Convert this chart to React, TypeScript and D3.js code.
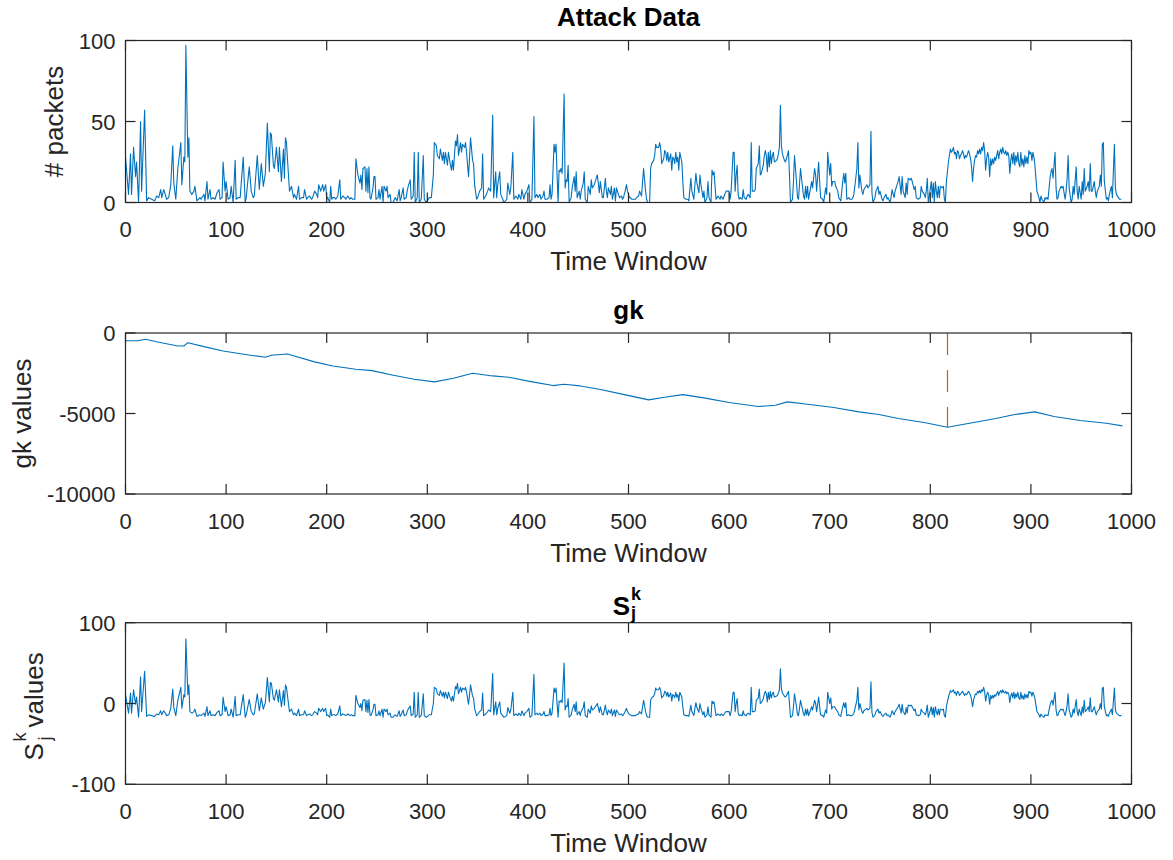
import React from 'react';
import * as d3 from 'd3';

// ---- data ----
// Attack data: [time window, # packets]
const attackSamples: [number, number][] = [
[0,28],[3,5],[5,30],[6,5],[8,34],[10,16],[11,25],[13,0],[15,50],[16,7],[19,57],[21,1],[23,3],[26,2],[29,1],[31,4],[33,3],[35,8],[36,3],[38,8],[41,2],[43,3],[45,11],[47,35],[48,12],[50,2],[52,21],[55,37],[56,11],[58,28],[59,25],[60,97],[62,28],[63,40],[64,7],[66,5],[68,7],[69,10],[71,1],[74,3],[75,2],[78,5],[79,1],[81,13],[82,2],[84,8],[85,2],[87,3],[89,2],[91,6],[93,8],[94,2],[96,3],[97,25],[99,7],[100,13],[102,2],[104,3],[105,10],[107,0],[109,26],[110,2],[112,3],[114,3],[117,28],[119,0],[120,3],[123,22],[125,7],[127,3],[128,4],[131,29],[133,8],[135,24],[137,10],[139,18],[141,49],[143,19],[144,43],[145,42],[147,23],[148,21],[150,34],[152,19],[153,34],[155,13],[157,33],[158,15],[159,40],[160,37],[162,17],[163,7],[165,10],[167,3],[168,5],[170,2],[172,10],[173,2],[175,3],[177,3],[178,8],[180,2],[181,3],[183,4],[185,2],[186,3],[188,7],[190,5],[191,3],[192,11],[194,7],[196,11],[197,7],[199,11],[200,2],
[201,3],[203,0],[204,10],[205,2],[206,3],[208,3],[209,2],[211,4],[213,14],[214,2],[216,4],[218,3],[219,2],[221,4],[223,2],[224,3],[226,2],[228,2],[229,27],[231,17],[233,12],[234,17],[235,8],[236,21],[238,22],[239,7],[240,21],[241,6],[242,22],[243,3],[244,2],[246,9],[247,16],[248,16],[249,2],[251,3],[252,8],[253,2],[255,10],[256,0],[257,10],[259,7],[260,10],[261,3],[263,5],[264,0],[266,0],[268,3],[270,1],[272,8],[273,1],[274,3],[276,9],[277,2],[279,3],[280,7],[281,10],[283,14],[284,2],[286,4],[287,31],[288,0],[290,3],[291,31],[292,0],[294,2],[296,29],[297,2],[299,0],[301,2],[302,3],[304,3],[306,17],[307,37],[309,35],[310,29],[312,27],[313,33],[315,26],[316,31],[317,24],[318,31],[320,23],[321,31],[323,23],[324,20],[325,26],[326,20],[328,38],[329,35],[330,42],[331,29],[333,37],[334,31],[335,36],[337,34],[338,37],[339,31],[341,16],[343,40],[345,26],[346,24],[347,11],[349,2],[350,3],[352,7],[354,9],[355,30],[356,2],[358,4],[360,7],[361,9],[363,7],[365,54],[366,3],[368,19],[369,3],[370,11],[372,19],[373,5],[375,2],[376,0],[379,2],[380,12],[382,5],[383,9],[385,31],[386,2],[388,4],[390,2],[391,5],[393,2],[394,8],[396,2],[397,5],[399,7],
[401,11],[402,0],[404,2],[406,53],[407,3],[409,5],[410,3],[412,5],[413,2],[415,4],[416,7],[417,2],[419,2],[421,3],[422,11],[423,2],[424,5],[426,36],[427,31],[428,36],[429,17],[430,0],[431,20],[432,19],[433,21],[434,18],[436,67],[437,9],[438,14],[439,13],[440,23],[441,0],[443,3],[444,9],[446,16],[447,7],[448,19],[449,3],[451,7],[452,2],[453,7],[455,12],[456,19],[457,2],[459,0],[460,10],[462,5],[463,14],[464,9],[466,11],[467,13],[469,17],[470,12],[471,6],[472,13],[474,3],[475,3],[477,15],[478,7],[479,3],[480,9],[482,5],[483,10],[484,2],[486,9],[487,1],[488,9],[490,5],[491,3],[493,4],[494,2],[495,3],[497,8],[498,11],[499,7],[501,3],[502,3],[503,2],[505,2],[507,2],[508,3],[510,4],[511,7],[513,4],[514,13],[515,21],[517,7],[518,2],[519,0],[521,0],[522,21],[523,24],[525,26],[526,29],[527,36],[528,34],[530,34],[531,37],[532,33],[533,24],[535,27],[536,32],[537,31],[538,26],[539,31],[540,25],[542,30],[543,20],[544,28],[545,27],[546,24],[547,31],[548,25],[549,28],[550,20],[551,31],[553,25],[554,13],[555,3],[557,2],[559,2],[560,1],[562,15],[563,7],[565,2],[566,11],[567,18],[568,12],[570,6],[571,17],[572,11],[574,3],[575,7],[576,0],[578,3],[579,13],[580,3],[582,0],[583,20],[584,17],[585,19],[587,2],[588,3],[589,4],[591,2],[592,4],[594,2],[595,4],[597,7],[598,7],
[600,7],[601,2],[602,7],[604,31],[605,31],[606,7],[607,17],[608,23],[609,5],[610,2],[611,3],[613,2],[614,8],[615,3],[617,2],[618,4],[619,5],[621,3],[622,37],[623,7],[625,7],[626,8],[627,21],[629,24],[630,35],[631,17],[632,18],[634,23],[635,29],[636,32],[637,29],[638,19],[639,31],[640,22],[641,32],[642,24],[643,29],[644,31],[645,25],[647,26],[648,27],[649,30],[650,34],[651,60],[652,35],[653,30],[655,26],[656,25],[657,27],[659,32],[660,17],[661,0],[663,2],[664,13],[665,29],[667,13],[668,3],[669,2],[671,21],[672,15],[674,4],[675,2],[676,10],[677,3],[678,10],[679,2],[681,9],[682,13],[683,9],[685,21],[686,17],[687,7],[689,25],[690,13],[691,3],[693,2],[694,0],[696,9],[697,5],[698,31],[700,17],[701,24],[702,10],[703,13],[705,13],[706,10],[708,7],[709,3],[710,2],[711,1],[713,13],[714,18],[715,12],[716,18],[717,2],[719,3],[720,2],[722,2],[723,3],[724,5],[725,10],[727,21],[728,37],[729,9],[730,17],[732,7],[733,5],[734,8],[736,10],[737,11],[738,9],[740,11],[741,44],[742,6],[743,0],[745,3],[746,7],[748,10],[749,5],[750,7],[752,2],[753,1],[754,3],[756,5],[757,2],[758,3],[760,0],[761,3],[762,8],[764,3],[765,7],[766,9],[768,13],[769,16],[771,5],[772,16],[773,7],[775,3],[776,12],[777,5],[778,15],[780,14],[781,15],[782,13],[784,8],[785,10],[786,3],[788,2],[790,3],[791,10],[792,7],[794,5],[795,3],[796,7],[797,15],
[798,0],[799,4],[801,13],[802,3],[803,12],[804,0],[805,13],[806,7],[807,3],[808,10],[809,3],[810,10],[812,9],[813,10],[814,2],[815,0],[816,13],[818,25],[819,29],[820,33],[821,31],[822,32],[823,34],[824,30],[825,31],[826,27],[827,32],[828,31],[829,27],[830,29],[831,30],[832,32],[833,30],[834,27],[835,29],[836,28],[837,30],[838,32],[839,30],[840,27],[841,22],[842,13],[843,21],[844,26],[845,29],[846,28],[847,32],[848,30],[849,33],[850,30],[851,34],[852,32],[853,37],[854,32],[855,20],[856,27],[857,31],[858,28],[859,16],[860,27],[861,23],[862,27],[863,24],[864,28],[865,26],[866,29],[867,32],[868,27],[869,31],[870,33],[871,30],[872,34],[873,31],[874,30],[875,32],[876,29],[877,31],[878,29],[879,18],[880,26],[881,30],[882,24],[883,31],[884,23],[885,29],[886,25],[887,31],[888,24],[889,22],[890,31],[891,23],[892,27],[893,22],[894,29],[895,24],[896,28],[897,24],[898,32],[899,30],[900,31],[901,26],[902,31],[903,28],[904,23],[905,15],[906,7],[908,3],[909,0],[910,4],[911,2],[913,0],[914,3],[915,2],[916,3],[917,2],[919,15],[920,19],[921,21],[922,15],[924,31],[925,9],[926,2],[927,3],[928,7],[930,10],[931,9],[932,10],[934,2],[935,7],[936,15],[937,29],[938,9],[940,0],[941,2],[942,10],[943,5],[945,22],[946,7],[947,2],[948,10],[950,2],[951,13],[952,5],[953,21],[954,7],[956,10],[957,13],[958,7],[959,24],[960,7],[961,7],[963,13],[964,7],[965,3],[966,7],[968,10],[969,17],[970,10],[971,36],[972,37],[973,13],[975,2],[976,3],[977,1],[978,5],[980,10],[981,3],[983,36],[984,9],[985,5],[987,3],[988,2],[989,2],[990,2]
];

// gk statistic: [time window, gk value]
const gkSamples: [number, number][] = [
[0,-477],[12,-477],[20,-393],[32,-560],[52,-806],[58,-806],[62,-600],[78,-847],[97,-1116],[116,-1302],[139,-1509],[145,-1385],[161,-1302],[187,-1777],[206,-2045],[229,-2252],[245,-2335],[265,-2604],[287,-2873],[307,-3038],[326,-2811],[345,-2500],[365,-2666],[381,-2749],[403,-3018],[425,-3266],[436,-3183],[452,-3287],[471,-3494],[497,-3845],[520,-4155],[536,-3990],[554,-3825],[575,-4031],[600,-4320],[629,-4568],[646,-4485],[658,-4278],[678,-4423],[704,-4630],[729,-4899],[749,-5064],[768,-5312],[794,-5560],[817,-5850],[839,-5602],[865,-5312],[884,-5064],[904,-4899],[923,-5188],[949,-5436],[975,-5602],[991,-5767]
];

// S_j^k is the attack series shifted by a constant reference level
const SJ_OFFSET = 17;
const changePoint = 817;

const xTicks = [0, 100, 200, 300, 400, 500, 600, 700, 800, 900, 1000];
const attackYTicks = [0, 50, 100];
const gkYTicks = [-10000, -5000, 0];
const sjYTicks = [-100, 0, 100];

// ---- styling / layout ----
const FONT = '"Liberation Sans", Arial, Helvetica, sans-serif';
const AX = '#262626';
const LINE = '#0072BD';
const RED = '#D95319';
const TICK_FS = 22;
const LABEL_FS = 26;
const TICK_LEN = 10;

const x = d3.scaleLinear().domain([0, 1000]).range([125.5, 1131.5]);

type PanelProps = {
  top: number;
  bottom: number;
  yDomain: [number, number];
  yTicks: number[];
  children?: (y: d3.ScaleLinear<number, number>) => React.ReactNode;
};

function Frame({ top, bottom, yDomain, yTicks, children }: PanelProps) {
  const y = d3.scaleLinear().domain(yDomain).range([bottom, top]);
  const [x0, x1] = x.range();
  return (
    <g>
      <rect x={x0} y={top} width={x1 - x0} height={bottom - top} fill="#fff" />
      {children && children(y)}
      <rect x={x0} y={top} width={x1 - x0} height={bottom - top} fill="none" stroke={AX} strokeWidth={1.2} />
      {xTicks.map((t) => (
        <g key={'xt' + t}>
          <line x1={x(t)} x2={x(t)} y1={bottom} y2={bottom - TICK_LEN} stroke={AX} strokeWidth={1.2} />
          <line x1={x(t)} x2={x(t)} y1={top} y2={top + TICK_LEN} stroke={AX} strokeWidth={1.2} />
          <text x={x(t)} y={bottom + 34.5} textAnchor="middle" fontFamily={FONT} fontSize={TICK_FS} fill={AX}>
            {t}
          </text>
        </g>
      ))}
      {yTicks.map((t) => (
        <g key={'yt' + t}>
          <line x1={x0} x2={x0 + TICK_LEN} y1={y(t)} y2={y(t)} stroke={AX} strokeWidth={1.2} />
          <line x1={x1} x2={x1 - TICK_LEN} y1={y(t)} y2={y(t)} stroke={AX} strokeWidth={1.2} />
          <text x={x0 - 10} y={y(t) + 8} textAnchor="end" fontFamily={FONT} fontSize={TICK_FS} fill={AX}>
            {t}
          </text>
        </g>
      ))}
      <text x={(x0 + x1) / 2} y={bottom + 67.5} textAnchor="middle" fontFamily={FONT} fontSize={LABEL_FS} fill={AX}>
        Time Window
      </text>
    </g>
  );
}

export default function App() {
  const cx = (x.range()[0] + x.range()[1]) / 2;
  const mkLine = (y: d3.ScaleLinear<number, number>) =>
    d3
      .line<[number, number]>()
      .x((d) => x(d[0]))
      .y((d) => y(d[1]));

  const sjSamples: [number, number][] = attackSamples.map(([t, v]) => [t, v - SJ_OFFSET]);
  const redX = Math.round(x(changePoint)) + 0.5;

  return (
    <svg
      width={1173}
      height={860}
      style={{ position: 'absolute', left: 0, top: 0, background: '#fff' }}
      xmlns="http://www.w3.org/2000/svg"
    >
      <rect width={1173} height={860} fill="#fff" />

      {/* Panel 1: Attack data */}
      <Frame top={40.5} bottom={202.5} yDomain={[0, 100]} yTicks={attackYTicks}>
        {(y) => (
          <path d={mkLine(y)(attackSamples) || ''} fill="none" stroke={LINE} strokeWidth={1.1} strokeLinejoin="round" />
        )}
      </Frame>
      <text x={cx} y={26} textAnchor="middle" fontFamily={FONT} fontSize={LABEL_FS} fontWeight="bold" fill="#000">
        Attack Data
      </text>
      <text transform={`translate(63,121.5) rotate(-90)`} textAnchor="middle" fontFamily={FONT} fontSize={LABEL_FS} fill={AX}>
        # packets
      </text>

      {/* Panel 2: gk */}
      <Frame top={333} bottom={494} yDomain={[-10000, 0]} yTicks={gkYTicks}>
        {(y) => (
          <g>
            <path d={mkLine(y)(gkSamples) || ''} fill="none" stroke={LINE} strokeWidth={1.1} strokeLinejoin="round" />
            <line
              x1={redX}
              x2={redX}
              y1={y(0)}
              y2={y(d3.min(gkSamples, (d) => d[1]) as number)}
              stroke={RED}
              strokeWidth={1.2}
              strokeDasharray="22 15"
            />
          </g>
        )}
      </Frame>
      <text x={cx} y={319} textAnchor="middle" fontFamily={FONT} fontSize={LABEL_FS} fontWeight="bold" fill="#000">
        gk
      </text>
      <text transform={`translate(31,413.5) rotate(-90)`} textAnchor="middle" fontFamily={FONT} fontSize={LABEL_FS} fill={AX}>
        gk values
      </text>

      {/* Panel 3: S_j^k */}
      <Frame top={622.7} bottom={784.3} yDomain={[-100, 100]} yTicks={sjYTicks}>
        {(y) => (
          <path d={mkLine(y)(sjSamples) || ''} fill="none" stroke={LINE} strokeWidth={1.1} strokeLinejoin="round" />
        )}
      </Frame>
      <g fontFamily={FONT} fontWeight="bold" fill="#000">
        <text x={630} y={615} textAnchor="end" fontSize={LABEL_FS}>S</text>
        <text x={631} y={600} fontSize={18}>k</text>
        <text x={631} y={619} fontSize={18}>j</text>
      </g>
      <g transform={`translate(45,703.5) rotate(-90)`} fontFamily={FONT} fill={AX}>
        <text x={-57} y={-2} fontSize={LABEL_FS}>S</text>
        <text x={-38} y={-19} fontSize={18}>k</text>
        <text x={-37} y={6} fontSize={18}>j</text>
        <text x={-24} y={-2} fontSize={LABEL_FS}>values</text>
      </g>
    </svg>
  );
}
